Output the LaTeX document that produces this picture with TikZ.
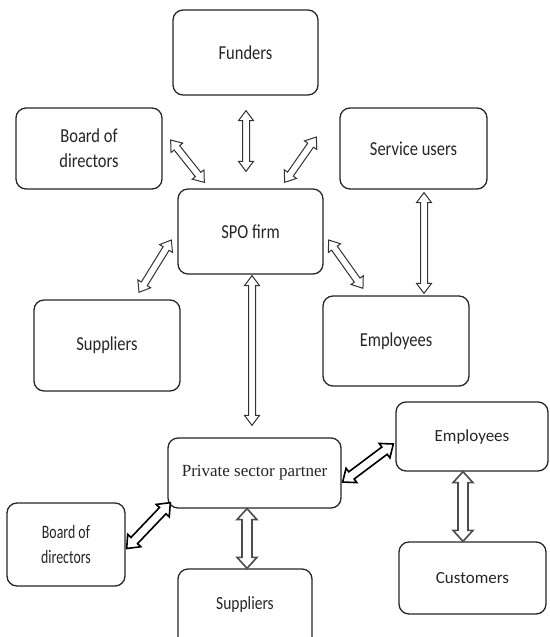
\documentclass[tikz,border=0pt]{standalone}
\usepackage{fontspec}
\usepackage{graphicx}
\setmainfont{Carlito}
\newfontfamily\serifpsp{Liberation Serif}
\usetikzlibrary{calc}
\newcommand\tall[1]{\scalebox{1}[1.2]{#1}}
\newcommand\narrowtall[1]{\scalebox{0.84}[1.15]{#1}}
\tikzset{
  box/.style={draw=black!85, line width=1.3pt, rounded corners=10pt, rectangle,
    align=center, inner sep=0pt, text=black!85, font=\fontsize{16.5}{25}\selectfont, fill=white},
  thinarr/.style={draw=black!80, line width=1pt, line join=miter, fill=white},
  thickarr/.style={draw=black, line width=1.6pt, line join=miter, fill=white},
  grayarr/.style={draw=black!70, line width=1.6pt, line join=miter, fill=white},
}
% #1 style, #2 start, #3 end, #4 half shaft, #5 half head, #6 head length
\newcommand\blockarr[6]{%
  \draw[#1] let \p1=#2, \p2=#3, \n1={atan2(\y2-\y1,\x2-\x1)}, \n2={veclen(\x2-\x1,\y2-\y1)} in
    [shift={(\p1)}, rotate=\n1]
    (0,0) -- (#6,#5) -- (#6,#4) -- ({\n2-#6},#4) -- ({\n2-#6},#5) -- (\n2,0)
    -- ({\n2-#6},-#5) -- ({\n2-#6},-#4) -- (#6,-#4) -- (#6,-#5) -- cycle;}
\begin{document}
\begin{tikzpicture}[x=1pt,y=-1pt]
\useasboundingbox (0,0) rectangle (549,637);
\clip (0,0) rectangle (549,637);
% top network
\node[box, minimum width=145pt, minimum height=85pt] (fund) at (245.5,52.5) {\tall{Funders}};
\node[box, minimum width=146pt, minimum height=81pt] (bod1) at (89,148.5) {\tall{Board of}\\\tall{directors}};
\node[box, minimum width=147pt, minimum height=81pt] (serv) at (413.5,148.5) {\tall{Service users}};
\node[box, minimum width=145pt, minimum height=85pt] (spo) at (250.5,231.5) {\tall{SPO firm}};
\node[box, minimum width=146pt, minimum height=91pt] (sup1) at (107,345.5) {\tall{Suppliers}};
\node[box, minimum width=146pt, minimum height=90pt] (emp1) at (396,341) {\tall{Employees}};
% bottom network
\node[box, minimum width=173pt, minimum height=70pt, font=\serifpsp\fontsize{17}{20}\selectfont] (psp) at (254.5,473) {Private sector partner};
\node[box, minimum width=152pt, minimum height=69pt, font=\fontsize{17}{20}\selectfont] (emp2) at (472,436.5) {Employees};
\node[box, minimum width=118pt, minimum height=83pt] (bod2) at (66,544.5) {\narrowtall{Board of}\\\narrowtall{directors}};
\node[box, minimum width=134pt, minimum height=80pt, font=\fontsize{15.5}{20}\selectfont] (sup2) at (245,609) {\raisebox{12pt}{\tall{Suppliers}}};
\node[box, minimum width=147pt, minimum height=72pt, font=\fontsize{17}{20}\selectfont] (cust) at (472.5,578) {Customers};
% connectors
\blockarr{thinarr}{($(fund.south)+(0.5,15)$)}{($(spo.north)+(-4.5,-17)$)}{3.5}{7.5}{10}
\blockarr{thinarr}{($(bod1.east)+(8,-8.5)$)}{($(spo.north west)+(27,-6)$)}{3.5}{7.5}{10}
\blockarr{thinarr}{($(serv.west)+(-23,-11.5)$)}{($(spo.north east)+(-39,-6)$)}{3.5}{7.5}{10}
\blockarr{thinarr}{($(serv.south)+(10.5,3)$)}{($(emp1.north)+(28,-2)$)}{3.5}{7.5}{10}
\blockarr{thinarr}{($(spo.west)+(-6,8.5)$)}{($(sup1.north)+(32,-7)$)}{3.5}{7.5}{10}
\blockarr{thinarr}{($(spo.east)+(5,8.5)$)}{($(emp1.north)+(-33,-7)$)}{3.5}{7.5}{10}
\blockarr{thinarr}{($(spo.south)+(1.5,1)$)}{($(psp.north)+(-2.5,-12)$)}{3.5}{7.5}{10}
\blockarr{thickarr}{($(psp.east)+(1,9)$)}{($(emp2.west)+(-2,7.5)$)}{4.5}{9}{11}
\blockarr{thickarr}{($(bod2.east)+(1,4)$)}{($(psp.south west)+(3,-6)$)}{4.5}{9}{11}
\blockarr{grayarr}{($(psp.south)+(-7.5,0)$)}{($(sup2.north)+(2,0)$)}{5}{10}{11}
\blockarr{grayarr}{($(emp2.south)+(-9,0)$)}{($(cust.north)+(-9.5,0)$)}{5}{10}{11}
\end{tikzpicture}
\end{document}
